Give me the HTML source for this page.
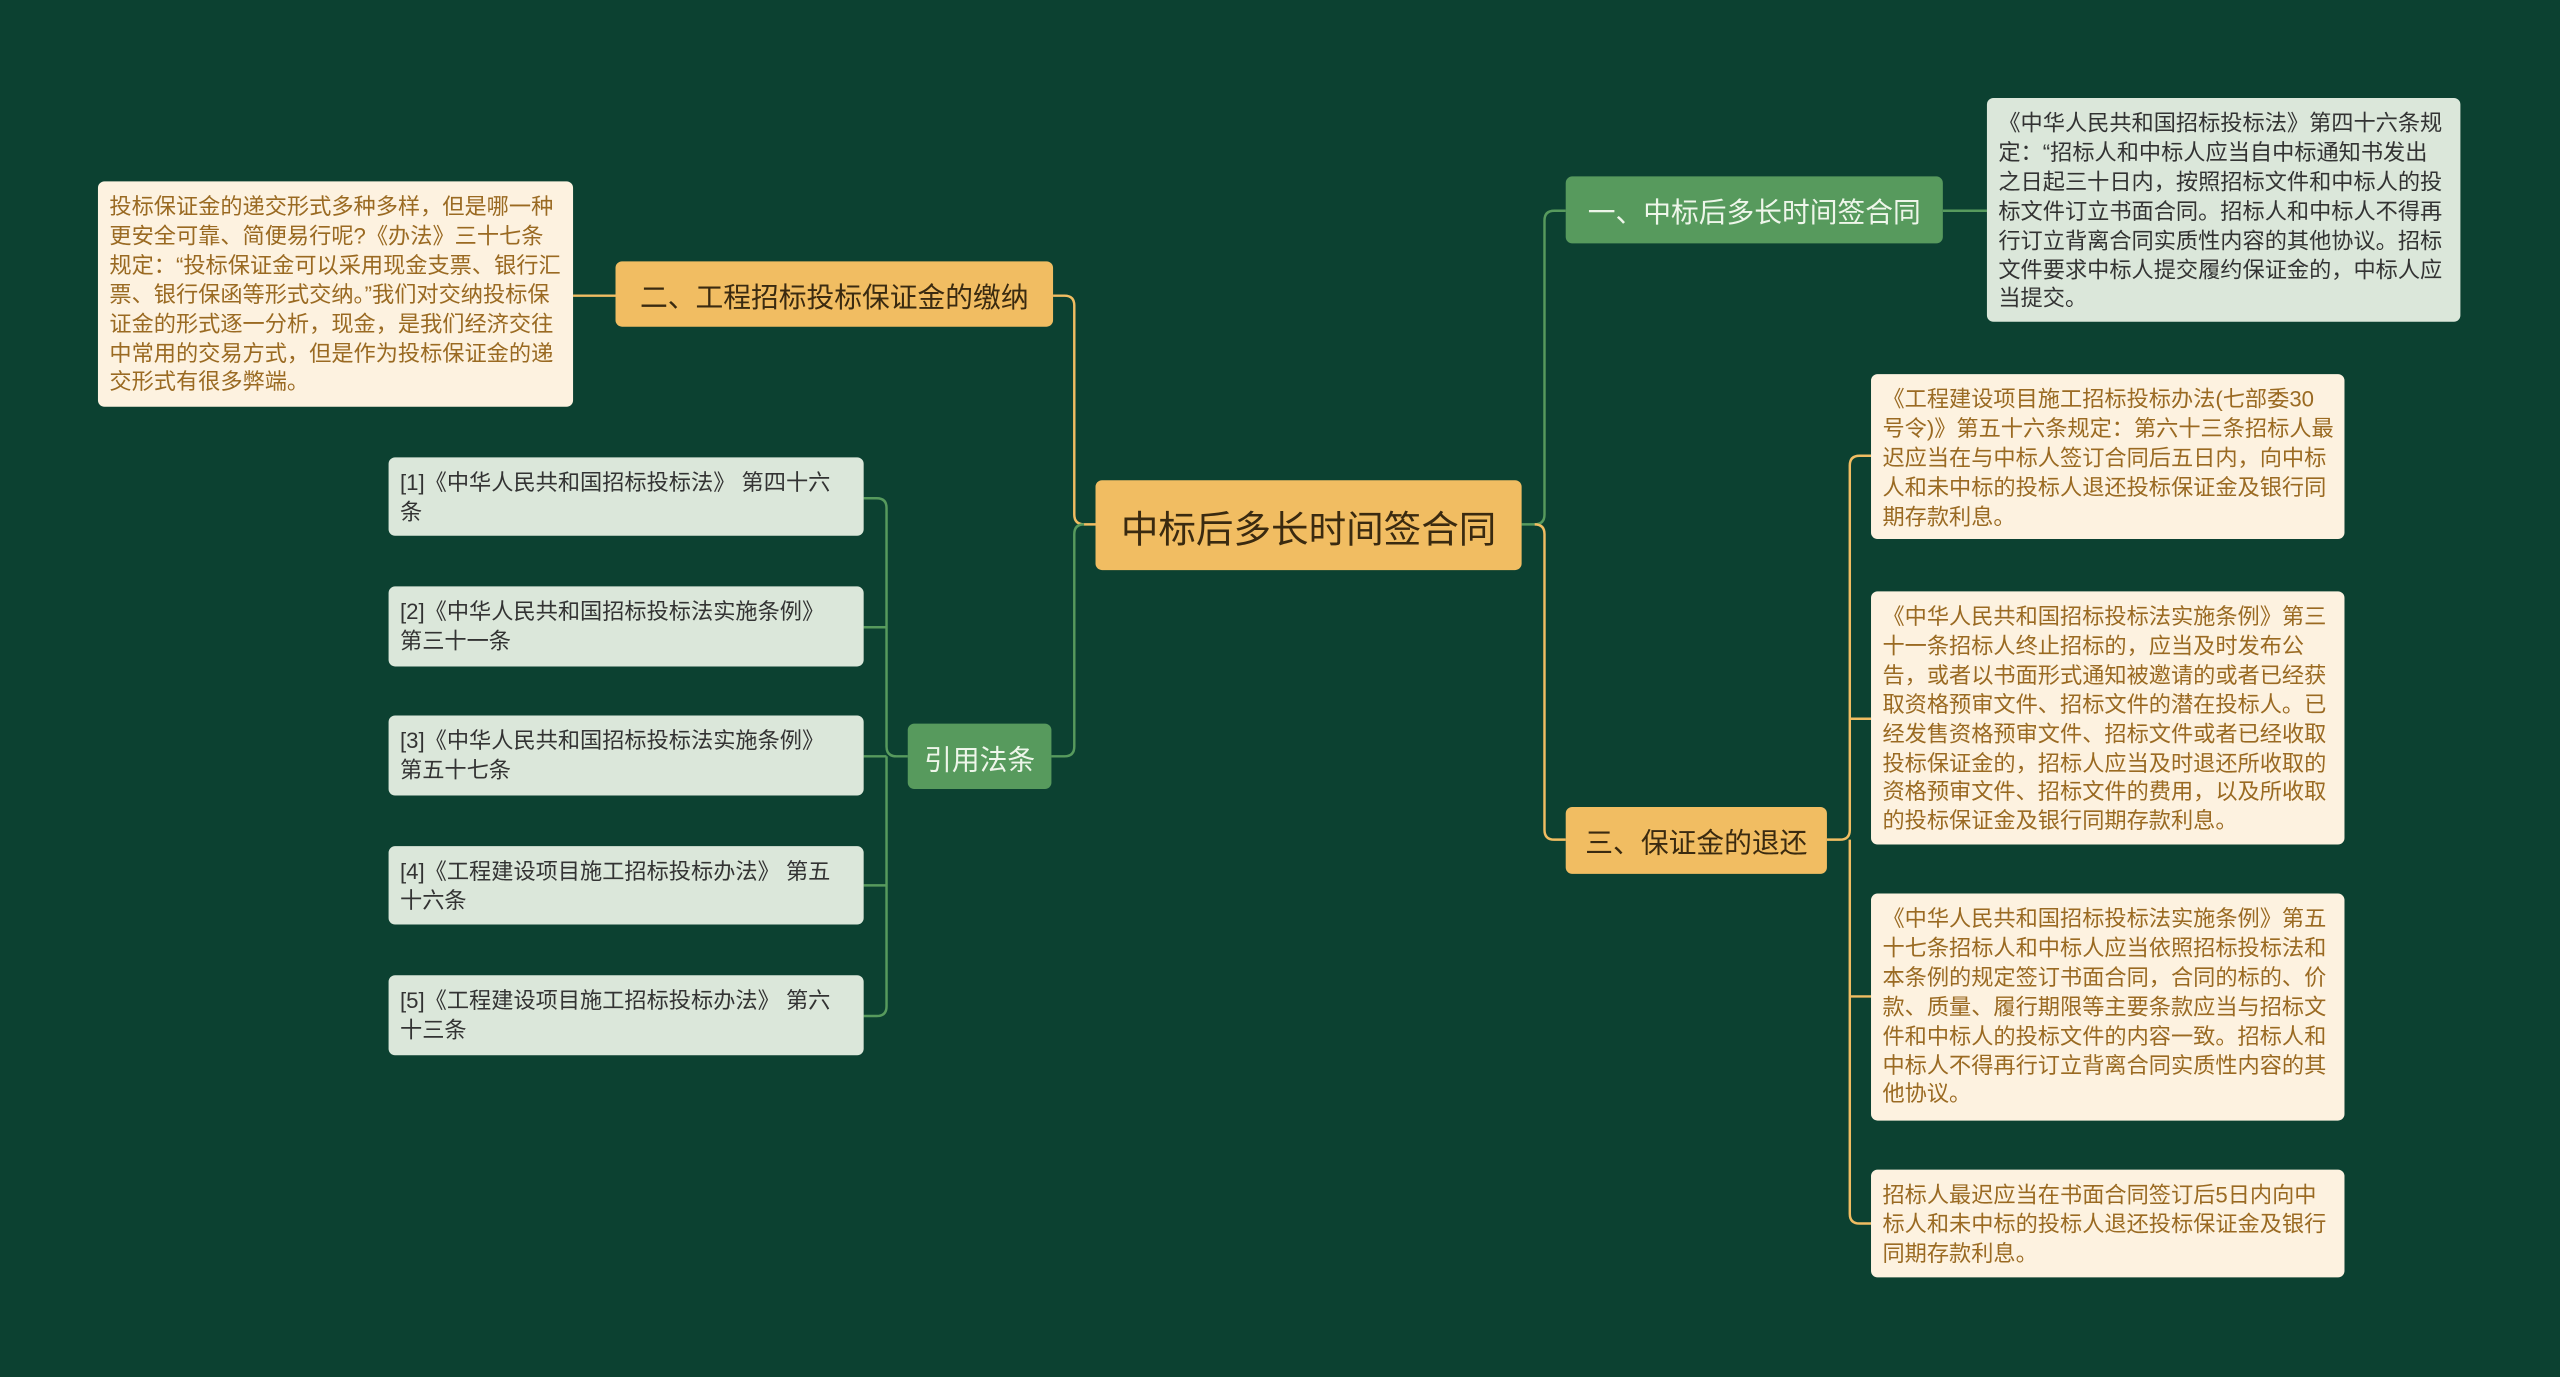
<!DOCTYPE html>
<html><head><meta charset="utf-8">
<style>
html,body{margin:0;padding:0;width:2560px;height:1377px;overflow:hidden;background:#0c4131;}
#s{position:absolute;left:0;top:0;width:1568px;height:843px;transform:scale(1.63265,1.6335);transform-origin:0 0;font-family:"Liberation Sans","Noto Sans CJK SC",sans-serif;}
.b{position:absolute;box-sizing:border-box;border-radius:4px;}
.o{background:#f1bd62;color:#3a2a10;font-size:17px;display:flex;align-items:center;justify-content:center;}
.g{background:#579a5d;color:#eef6ea;font-size:17px;display:flex;align-items:center;justify-content:center;}
.c{background:#fdf2e0;color:#9a6a22;font-size:13.6px;line-height:17.9px;padding:7px 6px 7px 7px;}
.l{background:#dbe7da;color:#333;font-size:13.6px;line-height:17.9px;padding:7px 8px 7px 7px;}
svg{position:absolute;left:0;top:0;}
</style></head><body><div id="s">
<svg width="1568" height="843" fill="none" stroke-width="1.5">
<path d="M932 321 H940 Q946 321 946 315 V135 Q946 129 952 129 H959" stroke="#579a5d"/>
<path d="M940 321 Q946 321 946 327 V508 Q946 514 952 514 H959" stroke="#f1bd62"/>
<path d="M1190 129 H1217" stroke="#579a5d"/>
<path d="M1119 514 H1127 Q1133 514 1133 508 V285 Q1133 279 1139 279 H1146 M1133 440 H1146 M1133 514 V610 H1146 M1133 610 V743 Q1133 749 1139 749 H1146" stroke="#f1bd62"/>
<path d="M671 321 H664 Q658 321 658 315 V187 Q658 181 652 181 H645" stroke="#f1bd62"/>
<path d="M664 321 Q658 321 658 327 V457 Q658 463 652 463 H644" stroke="#579a5d"/>
<path d="M377 181 H351" stroke="#f1bd62"/>
<path d="M556 463 H549 Q543 463 543 457 V311 Q543 305 537 305 H529 M543 384 H529 M543 463 H529 M543 463 V542 H529 M543 542 V616 Q543 622 537 622 H529" stroke="#579a5d"/>
</svg>
<div class="b o" style="left:671px;top:294px;width:261px;height:55px;font-size:23px;">中标后多长时间签合同</div>
<div class="b o" style="left:377px;top:160px;width:268px;height:40px;">二、工程招标投标保证金的缴纳</div>
<div class="b c" style="left:60px;top:111px;width:291px;height:138px;">投标保证金的递交形式多种多样，但是哪一种更安全可靠、简便易行呢?《办法》三十七条规定：“投标保证金可以采用现金支票、银行汇票、银行保函等形式交纳。”我们对交纳投标保证金的形式逐一分析，现金，是我们经济交往中常用的交易方式，但是作为投标保证金的递交形式有很多弊端。</div>
<div class="b g" style="left:556px;top:443px;width:88px;height:40px;">引用法条</div>
<div class="b l" style="left:238px;top:280px;width:291px;height:48px;">[1]《中华人民共和国招标投标法》 第四十六条</div>
<div class="b l" style="left:238px;top:359px;width:291px;height:49px;">[2]《中华人民共和国招标投标法实施条例》 第三十一条</div>
<div class="b l" style="left:238px;top:438px;width:291px;height:49px;">[3]《中华人民共和国招标投标法实施条例》 第五十七条</div>
<div class="b l" style="left:238px;top:518px;width:291px;height:48px;">[4]《工程建设项目施工招标投标办法》 第五十六条</div>
<div class="b l" style="left:238px;top:597px;width:291px;height:49px;">[5]《工程建设项目施工招标投标办法》 第六十三条</div>
<div class="b g" style="left:959px;top:108px;width:231px;height:41px;">一、中标后多长时间签合同</div>
<div class="b l" style="left:1217px;top:60px;width:290px;height:137px;">《中华人民共和国招标投标法》第四十六条规定：“招标人和中标人应当自中标通知书发出之日起三十日内，按照招标文件和中标人的投标文件订立书面合同。招标人和中标人不得再行订立背离合同实质性内容的其他协议。招标文件要求中标人提交履约保证金的，中标人应当提交。</div>
<div class="b o" style="left:959px;top:494px;width:160px;height:41px;">三、保证金的退还</div>
<div class="b c" style="left:1146px;top:229px;width:290px;height:101px;">《工程建设项目施工招标投标办法(七部委30号令)》第五十六条规定：第六十三条招标人最迟应当在与中标人签订合同后五日内，向中标人和未中标的投标人退还投标保证金及银行同期存款利息。</div>
<div class="b c" style="left:1146px;top:362px;width:290px;height:155px;">《中华人民共和国招标投标法实施条例》第三十一条招标人终止招标的，应当及时发布公告，或者以书面形式通知被邀请的或者已经获取资格预审文件、招标文件的潜在投标人。已经发售资格预审文件、招标文件或者已经收取投标保证金的，招标人应当及时退还所收取的资格预审文件、招标文件的费用，以及所收取的投标保证金及银行同期存款利息。</div>
<div class="b c" style="left:1146px;top:547px;width:290px;height:139px;">《中华人民共和国招标投标法实施条例》第五十七条招标人和中标人应当依照招标投标法和本条例的规定签订书面合同，合同的标的、价款、质量、履行期限等主要条款应当与招标文件和中标人的投标文件的内容一致。招标人和中标人不得再行订立背离合同实质性内容的其他协议。</div>
<div class="b c" style="left:1146px;top:716px;width:290px;height:66px;">招标人最迟应当在书面合同签订后5日内向中标人和未中标的投标人退还投标保证金及银行同期存款利息。</div>
</div></body></html>
